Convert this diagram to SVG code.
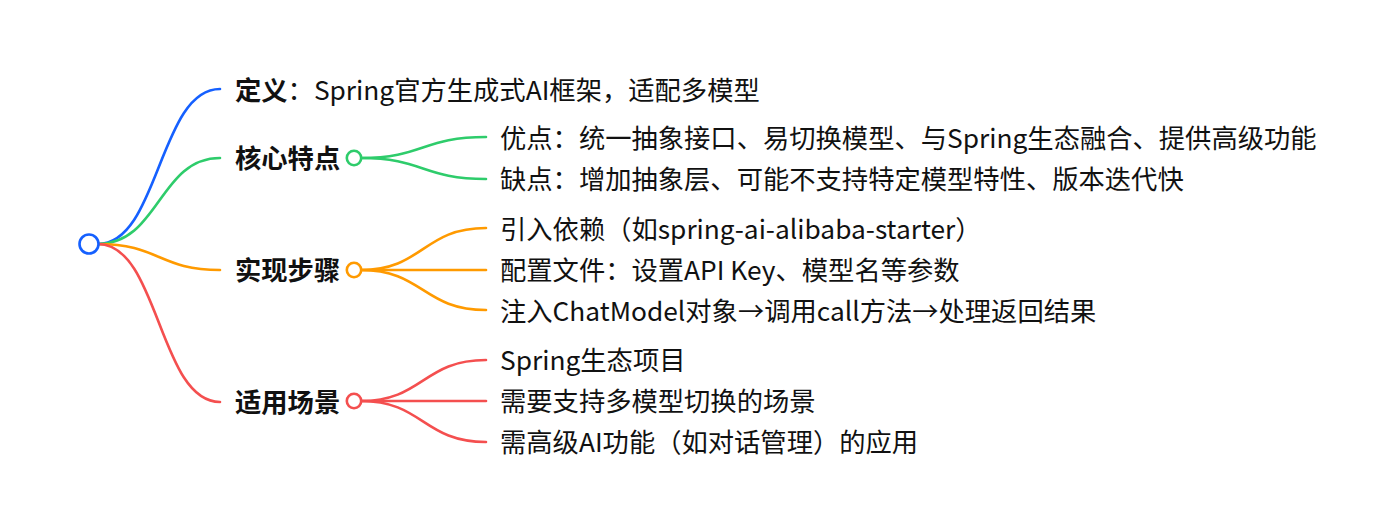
<svg xmlns="http://www.w3.org/2000/svg" width="1394" height="528" viewBox="0 0 1394 528">
<style>
text{font-family:"Noto Sans CJK SC","Noto Sans",sans-serif;font-size:26.3px;fill:#111}
.b{font-weight:700}
.n{font-weight:400}
path{fill:none;stroke-width:2.6;stroke-linecap:round}
circle{fill:#fff;stroke-width:2.6}
.blue{stroke:#1560ff}
.green{stroke:#2ecc6b}
.orange{stroke:#ff9a00}
.red{stroke:#f44f4f}
</style>
<rect width="1394" height="528" fill="#fff"/>
<g id="connectors">
<path class="blue" d="M98,244 C159,244 159,89 220,89"/>
<path class="green" d="M98,244 C159,244 159,158 220,158"/>
<path class="orange" d="M98,244 C159,244 159,270 220,270"/>
<path class="red" d="M98,244 C159,244 159,402 220,402"/>
<path class="green" d="M361,158 C423,158 423,137 486,137"/>
<path class="green" d="M361,158 C423,158 423,179 486,179"/>
<path class="orange" d="M361,270 C423,270 423,228 486,228"/>
<path class="orange" d="M361,270 L486,270"/>
<path class="orange" d="M361,270 C423,270 423,310 486,310"/>
<path class="red" d="M361,401 C423,401 423,360 486,360"/>
<path class="red" d="M361,401 L486,401"/>
<path class="red" d="M361,401 C423,401 423,442 486,442"/>
</g>
<g id="root"><circle class="blue" cx="89" cy="244" r="9.5"/></g>
<g id="node-def"><text x="235" y="99.5"><tspan class="b">定义</tspan><tspan class="n">：Spring官方生成式AI框架，适配多模型</tspan></text></g>
<g id="node-core">
<text class="b" x="235" y="168">核心特点</text>
<circle class="green" cx="354" cy="158" r="7.2"/>
</g>
<g id="leaf-pro"><text x="500" y="148">优点：统一抽象接口、易切换模型、与Spring生态融合、提供高级功能</text></g>
<g id="leaf-con"><text x="500" y="189">缺点：增加抽象层、可能不支持特定模型特性、版本迭代快</text></g>
<g id="node-steps">
<text class="b" x="235" y="280">实现步骤</text>
<circle class="orange" cx="354" cy="270" r="7.2"/>
</g>
<g id="leaf-step1"><text x="500" y="239">引入依赖（如spring-ai-alibaba-starter）</text></g>
<g id="leaf-step2"><text x="500" y="280">配置文件：设置API Key、模型名等参数</text></g>
<g id="leaf-step3"><text x="500" y="321">注入ChatModel对象→调用call方法→处理返回结果</text></g>
<g id="node-scenes">
<text class="b" x="235" y="412">适用场景</text>
<circle class="red" cx="354" cy="401" r="7.2"/>
</g>
<g id="leaf-scene1"><text x="500" y="370">Spring生态项目</text></g>
<g id="leaf-scene2"><text x="500" y="411">需要支持多模型切换的场景</text></g>
<g id="leaf-scene3"><text x="500" y="452">需高级AI功能（如对话管理）的应用</text></g>
</svg>
